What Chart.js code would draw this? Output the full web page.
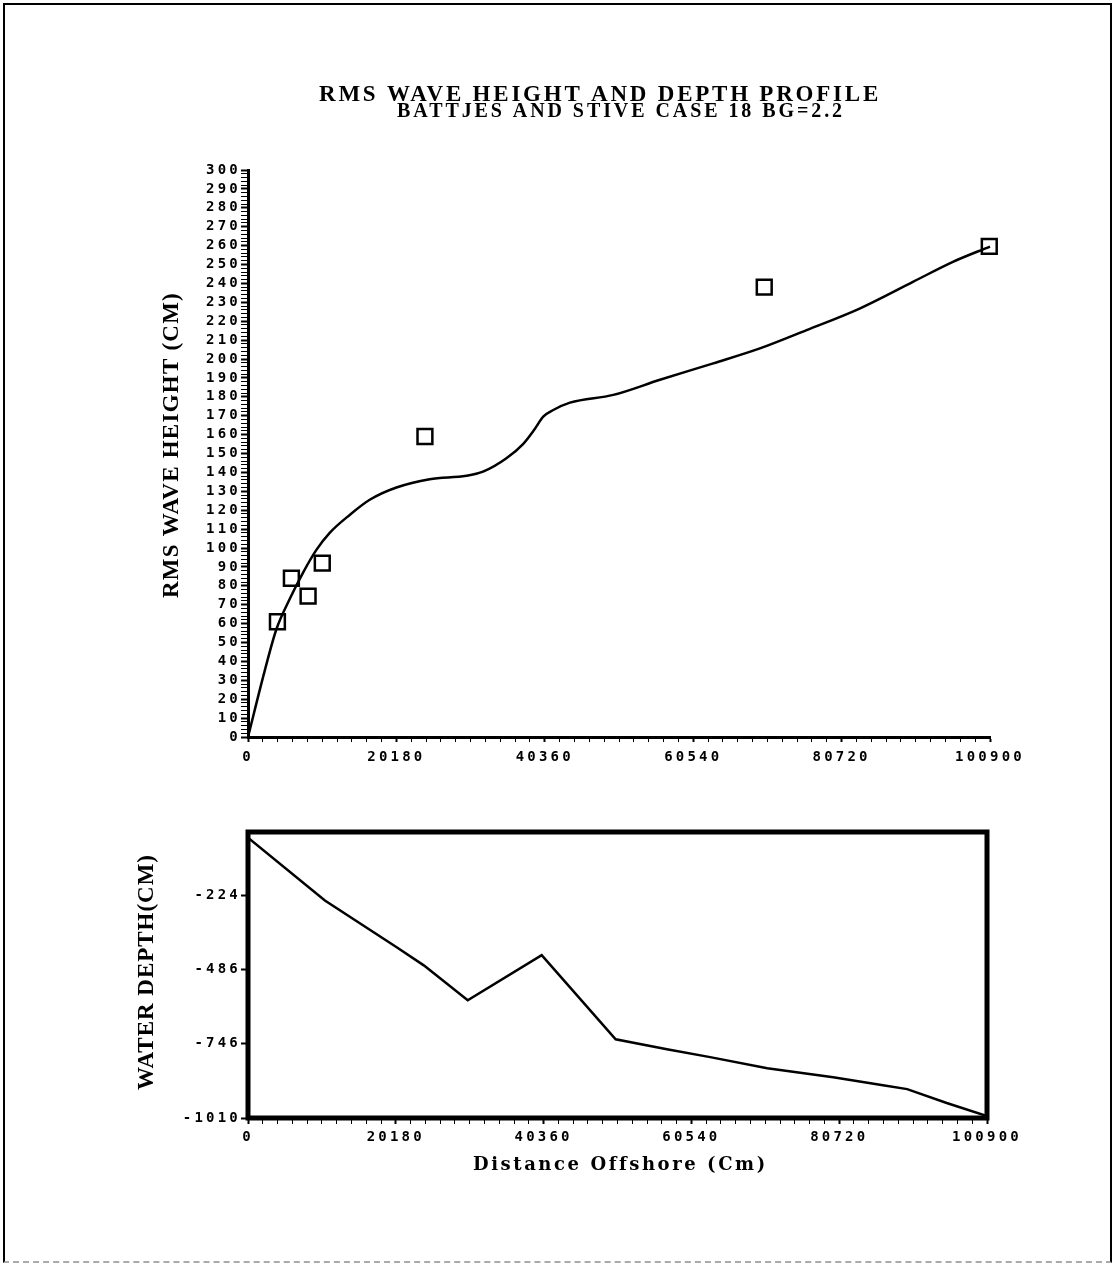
<!DOCTYPE html>
<html>
<head>
<meta charset="utf-8">
<script src="https://cdn.jsdelivr.net/npm/chart.js@4"></script>
<style>
  body { margin: 0; background: #fff; }
  #page { position: relative; width: 1114px; height: 1264px; overflow: hidden; }
  #frame { position: absolute; left: 3px; top: 3px; width: 1105px; height: 1256px;
           border: 2px solid #000; border-bottom: 2px dashed #aaa; }
  canvas { position: absolute; left: 0; }
  #top { top: 0; }
  #bottom { top: 790px; }
</style>
</head>
<body>
<div id="page">
  <div id="frame"></div>
  <canvas id="top" width="1114" height="780"></canvas>
  <canvas id="bottom" width="1114" height="420"></canvas>
</div>
<script>
// labels
const titleText = 'RMS WAVE HEIGHT AND DEPTH PROFILE'
const subtitleText = 'BATTJES AND STIVE CASE 18 BG=2.2'
const heightAxisTitle = 'RMS WAVE HEIGHT (CM)'
const depthAxisTitle = 'WATER DEPTH(CM)'
const distanceAxisTitle = 'Distance Offshore (Cm)'

// x ticks shared by both panels
const xTickValues = [0, 20180, 40360, 60540, 80720, 100900]
const depthTickValues = [-224, -486, -746, -1010]

// computed rms wave height (line)
const waveX = [0, 2270, 3860, 5670, 7490, 9300, 11110, 13830, 16550, 20180, 24710, 29700, 31960,
  35140, 37400, 39000, 40150, 41510, 43780, 49680, 56020, 63270, 69610, 75960, 83170, 90420, 95860, 100900]
const waveH = [0, 35, 57, 73, 87, 99, 108, 117.5, 125.5, 132, 136.4, 138.2, 140.4,
  147.5, 155, 163, 169.5, 173, 176.9, 181, 189, 197.7, 205.6, 215.3, 226.7, 240.8, 251.4, 259.5]

// measured rms wave height (squares)
const measX = [4000, 5900, 8170, 10100, 24060, 70200, 100800]
const measH = [61, 84, 74.5, 92, 159, 238, 259.6]

// depth profile
const depthX = [0, 10500, 20300, 24000, 30000, 40100, 50200, 57200, 63100, 70900, 79900, 86700, 90000, 95400, 100900]
const depthZ = [-20, -242, -407, -471, -594, -435, -732, -767, -795, -834, -866, -894, -908, -957, -1003]

const tickFont = { family: '"DejaVu Sans Mono"', weight: 'bold', size: 14 }

const pts = (xs, ys) => xs.map((x, i) => ({ x: x, y: ys[i] }))

// wide letter spacing for tick labels
const spacing = {
  id: 'spacing',
  beforeDraw(chart) { chart.ctx.letterSpacing = '3.2px' }
}

function spacedText(ctx, text, cx, cy, width, font, angle) {
  ctx.save()
  ctx.font = font
  ctx.letterSpacing = '0px'
  const natural = ctx.measureText(text).width
  ctx.letterSpacing = ((width - natural) / text.length) + 'px'
  ctx.translate(cx, cy)
  ctx.rotate(angle || 0)
  ctx.fillStyle = '#000'
  ctx.textAlign = 'left'
  ctx.textBaseline = 'middle'
  ctx.fillText(text, -width / 2, 0)
  ctx.restore()
}

function xTicks(scale) {
  const ticks = []
  for (let i = 0; i <= 50; i++) ticks.push({ value: i * 2018 })
  scale.ticks = ticks
}
const xLabel = v => xTickValues.includes(v) ? String(v) : ''
const majorWidth = c => (c.tick && xTickValues.includes(c.tick.value)) ? 2 : 1

const topChart = new Chart(document.getElementById('top'), {
  type: 'scatter',
  data: {
    datasets: [
      {
        type: 'line',
        data: pts(waveX, waveH),
        borderColor: '#000',
        borderWidth: 2.5,
        pointRadius: 0,
        cubicInterpolationMode: 'monotone',
        fill: false,
        clip: false
      },
      {
        data: pts(measX, measH),
        pointStyle: 'rect',
        pointRadius: 10.5,
        borderColor: '#000',
        borderWidth: 2.5,
        backgroundColor: 'rgba(0,0,0,0)',
        clip: false
      }
    ]
  },
  options: {
    responsive: false,
    animation: false,
    events: [],
    layout: { padding: { left: 0, top: 170, right: 124, bottom: 0 } },
    plugins: { legend: { display: false }, tooltip: { enabled: false } },
    scales: {
      x: {
        type: 'linear', min: 0, max: 100900,
        afterBuildTicks: xTicks,
        afterFit: s => { s.height = 43 },
        border: { color: '#000', width: 3 },
        grid: { drawOnChartArea: false, color: '#000', tickLength: 5, tickWidth: majorWidth },
        ticks: { autoSkip: false, maxRotation: 0, padding: 7, color: '#000', font: tickFont, callback: xLabel }
      },
      y: {
        type: 'linear', min: 0, max: 300,
        afterFit: s => { s.width = 248 },
        border: { color: '#000', width: 3 },
        grid: { drawOnChartArea: false, color: '#000', tickLength: 7,
                tickWidth: c => (c.tick && c.tick.value % 10 === 0) ? 2 : 1 },
        ticks: { stepSize: 2, autoSkip: false, padding: 0, color: '#000', font: tickFont,
                 callback: v => v % 10 === 0 ? String(v) : '' }
      }
    }
  },
  plugins: [spacing, {
    id: 'texts',
    afterDraw(chart) {
      const ctx = chart.ctx
      spacedText(ctx, titleText, 600, 95, 562, 'bold 23px "Liberation Serif"')
      spacedText(ctx, subtitleText, 621, 112, 448, 'bold 20px "Liberation Serif"')
      spacedText(ctx, heightAxisTitle, 172, 445, 306, 'bold 23px "Liberation Serif"', -Math.PI / 2)
    }
  }]
})

const bottomChart = new Chart(document.getElementById('bottom'), {
  type: 'line',
  data: {
    datasets: [{
      data: pts(depthX, depthZ),
      borderColor: '#000',
      borderWidth: 2.5,
      pointRadius: 0,
      tension: 0,
      fill: false
    }]
  },
  options: {
    responsive: false,
    animation: false,
    events: [],
    layout: { padding: { left: 0, top: 42, right: 127, bottom: 0 } },
    plugins: { legend: { display: false }, tooltip: { enabled: false } },
    scales: {
      x: {
        type: 'linear', min: 0, max: 100900,
        afterBuildTicks: xTicks,
        afterFit: s => { s.height = 92 },
        border: { display: false },
        grid: { drawOnChartArea: false, color: '#000', tickLength: 6, tickWidth: majorWidth },
        ticks: { autoSkip: false, maxRotation: 0, padding: 5, color: '#000', font: tickFont, callback: xLabel }
      },
      y: {
        type: 'linear', min: -1010, max: 0,
        afterBuildTicks: s => { s.ticks = depthTickValues.map(v => ({ value: v })) },
        afterFit: s => { s.width = 248 },
        border: { display: false },
        grid: { drawOnChartArea: false, color: '#000', tickLength: 7, tickWidth: 2 },
        ticks: { autoSkip: false, padding: 0, color: '#000', font: tickFont, callback: v => String(v) }
      }
    }
  },
  plugins: [spacing, {
    id: 'box',
    afterDraw(chart) {
      const ctx = chart.ctx
      const a = chart.chartArea
      ctx.save()
      ctx.strokeStyle = '#000'
      ctx.lineWidth = 5
      ctx.strokeRect(a.left, a.top, a.right - a.left, a.bottom - a.top)
      ctx.restore()
      spacedText(ctx, depthAxisTitle, 147, 972 - 790, 236, 'bold 23px "Liberation Serif"', -Math.PI / 2)
      spacedText(ctx, distanceAxisTitle, 620, 1165 - 790, 294, 'bold 18px "DejaVu Serif"')
    }
  }]
})
</script>
</body>
</html>
